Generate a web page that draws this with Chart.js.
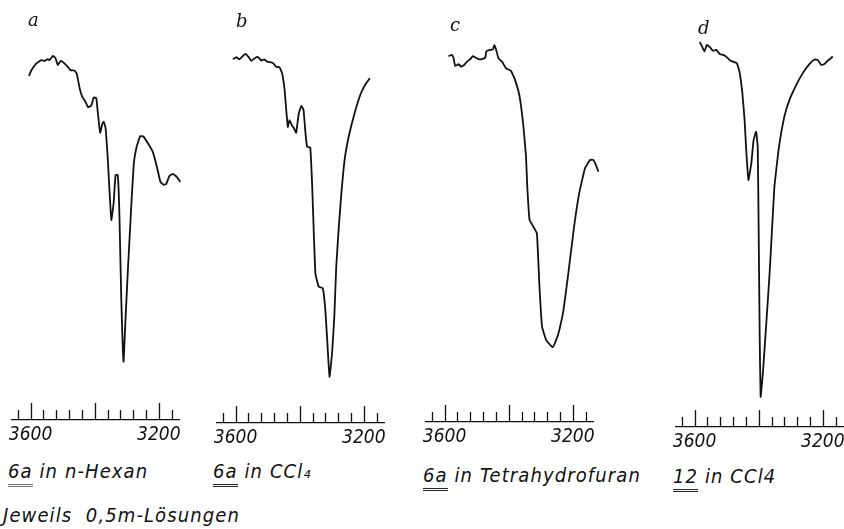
<!DOCTYPE html>
<html lang="de">

<head>
    <meta charset="UTF-8">
    <title>OH-Banden 6a / 12</title>
    <script src="https://cdn.jsdelivr.net/npm/chart.js"></script>
    <style>
        body {
            margin: 0;
            width: 844px;
            height: 529px;
            overflow: hidden;
            background: #fff;
            position: relative;
        }

        canvas {
            position: absolute;
        }

        .lbl {
            position: absolute;
            font-family: "DejaVu Serif", serif;
            font-style: italic;
            font-size: 18px;
            line-height: 18px;
            color: #111;
        }

        .cap {
            position: absolute;
            font-family: "DejaVu Sans Condensed", sans-serif;
            font-style: italic;
            font-size: 20px;
            line-height: 20px;
            letter-spacing: 1.1px;
            color: #111;
            white-space: pre;
        }

        .u {
            border-bottom: 3px double #222;
            padding-bottom: 1px;
        }
    </style>
</head>

<body>

    <canvas id="chA" width="187" height="450" style="left:2px;top:0px"></canvas>
    <canvas id="chB" width="187" height="450" style="left:207px;top:3px"></canvas>
    <canvas id="chC" width="187" height="450" style="left:416px;top:2px"></canvas>
    <canvas id="chD" width="187" height="450" style="left:666px;top:7px"></canvas>

    <div class="lbl" style="left:28px;top:11px">a</div>
    <div class="lbl" style="left:236px;top:12px">b</div>
    <div class="lbl" style="left:450px;top:16px">c</div>
    <div class="lbl" style="left:698px;top:19px">d</div>

    <div class="cap" style="left:8px;top:461px"><span class="u" style="border-bottom-color:#777">6a</span> in n-Hexan</div>
    <div class="cap" style="left:213px;top:461px"><span class="u">6a</span> in CCl₄</div>
    <div class="cap" style="left:423px;top:465px"><span class="u">6a</span> in Tetrahydrofuran</div>
    <div class="cap" style="left:673px;top:466px"><span class="u">12</span> in CCl4</div>
    <div class="cap" style="left:3px;top:505px">Jeweils  0,5m-Lösungen</div>

    <script>
        // wavenumber (cm-1) and transmission (%)
        const waveA = [3605, 3598, 3582, 3567, 3556, 3546, 3541, 3530, 3522, 3515, 3506, 3497, 3484, 3476, 3463, 3456,
            3447, 3439, 3429, 3421, 3411, 3403, 3395, 3390, 3383, 3376, 3372, 3366, 3359, 3354, 3348, 3341, 3335, 3328,
            3323, 3317, 3310, 3304, 3297, 3286, 3278, 3269, 3258, 3248, 3234, 3219, 3206, 3195, 3185, 3177, 3167, 3156,
            3144, 3133];
        const transA = [81.9, 83.2, 84.9, 85.7, 85.5, 85.9, 85.7, 86.7, 86.1, 84.5, 85.5, 85.1, 84.1, 83.3, 83.2, 82.5,
            79.0, 77.0, 75.8, 74.5, 74.8, 76.8, 76.6, 73.0, 68.4, 70.6, 71.0, 69.5, 61.9, 54.8, 47.6, 51.6, 58.3, 58.3,
            49.2, 28.6, 13.9, 23.8, 34.9, 50.8, 61.1, 65.1, 67.6, 67.5, 65.9, 63.9, 60.3, 56.7, 56.0, 56.2, 58.1, 58.6,
            57.9, 56.7];

        const waveB = [3608, 3598, 3588, 3577, 3569, 3559, 3551, 3541, 3531, 3520, 3510, 3501, 3492, 3482, 3473, 3463,
            3455, 3447, 3442, 3437, 3432, 3423, 3418, 3411, 3403, 3395, 3388, 3382, 3377, 3367, 3361, 3356, 3351, 3341,
            3328, 3320, 3313, 3307, 3299, 3292, 3286, 3278, 3270, 3260, 3247, 3229, 3209, 3193, 3181];
        const transB = [86.6, 87.1, 86.6, 87.4, 87.9, 87.1, 86.2, 86.8, 87.2, 86.3, 86.6, 86.0, 85.9, 85.6, 84.8, 84.7,
            83.3, 79.3, 74.5, 70.5, 72.1, 70.7, 70.2, 69.1, 73.7, 75.5, 74.5, 69.0, 65.8, 65.6, 56.3, 45.2, 35.6, 32.5,
            32.1, 26.9, 18.2, 11.0, 16.6, 25.3, 37.2, 46.7, 54.7, 62.6, 68.2, 73.7, 78.5, 80.9, 82.1];

        const waveC = [3588, 3577, 3572, 3567, 3556, 3549, 3539, 3530, 3520, 3512, 3504, 3494, 3484, 3473, 3470, 3458,
            3449, 3445, 3439, 3432, 3421, 3408, 3393, 3380, 3366, 3354, 3346, 3342, 3335, 3323, 3312, 3304, 3296, 3283,
            3263, 3252, 3242, 3229, 3214, 3196, 3180, 3162, 3146, 3136, 3128, 3120];
        const transC = [87.1, 87.4, 86.6, 84.8, 85.2, 84.6, 85.0, 85.8, 86.4, 87.1, 86.8, 86.4, 86.4, 86.8, 88.2, 88.6,
            88.7, 89.8, 88.6, 86.6, 85.8, 84.2, 83.6, 81.4, 77.5, 70.3, 63.2, 56.0, 48.1, 46.5, 44.9, 32.2, 22.7, 19.5,
            17.8, 19.5, 21.9, 26.7, 35.4, 46.5, 54.5, 60.4, 62.4, 62.4, 61.2, 59.6];

        const waveD = [3584, 3576, 3569, 3562, 3553, 3543, 3532, 3522, 3510, 3499, 3491, 3481, 3468, 3460, 3451, 3444,
            3439, 3432, 3423, 3416, 3408, 3403, 3400, 3397, 3394, 3387, 3377, 3366, 3358, 3351, 3338, 3320, 3304, 3283,
            3263, 3242, 3226, 3216, 3205, 3195, 3185, 3169];
        const transD = [91.7, 90.5, 89.4, 91.0, 90.5, 89.6, 89.8, 88.8, 88.6, 88.0, 87.4, 87.0, 86.6, 84.6, 79.5, 73.1,
            66.0, 58.8, 62.8, 68.3, 70.3, 66.7, 46.1, 22.3, 7.2, 12.8, 23.9, 36.6, 47.7, 57.2, 66.0, 73.9, 77.9, 81.4,
            84.2, 86.4, 87.5, 87.4, 86.2, 86.4, 87.2, 88.2];

        // scale marks below every trace
        const axisTicks = [3640, 3600, 3560, 3520, 3480, 3440, 3400, 3360, 3320, 3280, 3240, 3200, 3160];
        const axisLabels = [3600, 3200];

        // upward tick marks and the two numbers, placed with the x scale
        const tickMarks = {
            id: 'tickMarks',
            afterDraw(chart) {
                const sx = chart.scales.x;
                const ctx = chart.ctx;
                const y0 = chart.chartArea.bottom;
                ctx.save();
                ctx.strokeStyle = '#111';
                ctx.lineWidth = 1.3;
                axisTicks.forEach(v => {
                    const x = Math.round(sx.getPixelForValue(v)) + 0.5;
                    const len = v % 200 === 0 ? 17 : 10;
                    ctx.beginPath();
                    ctx.moveTo(x, y0);
                    ctx.lineTo(x, y0 - len);
                    ctx.stroke();
                });
                ctx.fillStyle = '#111';
                ctx.font = 'italic 19px "DejaVu Sans Condensed", sans-serif';
                ctx.textAlign = 'center';
                ctx.textBaseline = 'middle';
                axisLabels.forEach(v => {
                    ctx.fillText(String(v), sx.getPixelForValue(v), y0 + 15);
                });
                ctx.restore();
            }
        };

        function makeSpectrum(id, waves, trans) {
            const pts = waves.map((w, i) => ({ x: w, y: trans[i] }));
            new Chart(document.getElementById(id), {
                type: 'line',
                data: {
                    datasets: [{
                        data: pts,
                        borderColor: '#111',
                        borderWidth: 1.8,
                        pointRadius: 0,
                        tension: 0.1,
                        clip: false
                    }]
                },
                options: {
                    responsive: false,
                    animation: false,
                    devicePixelRatio: 1,
                    layout: { padding: { left: 10, right: 10, top: 0, bottom: 30 } },
                    plugins: { legend: { display: false }, tooltip: { enabled: false } },
                    scales: {
                        x: {
                            type: 'linear',
                            reverse: true,
                            min: 3137,
                            max: 3658,
                            grid: { display: false, drawTicks: false },
                            border: { display: true, color: '#111', width: 1.3 },
                            ticks: { display: false }
                        },
                        y: { display: false, min: 0, max: 100 }
                    }
                },
                plugins: [tickMarks]
            });
        }

        makeSpectrum('chA', waveA, transA);
        makeSpectrum('chB', waveB, transB);
        makeSpectrum('chC', waveC, transC);
        makeSpectrum('chD', waveD, transD);
    </script>
</body>

</html>
